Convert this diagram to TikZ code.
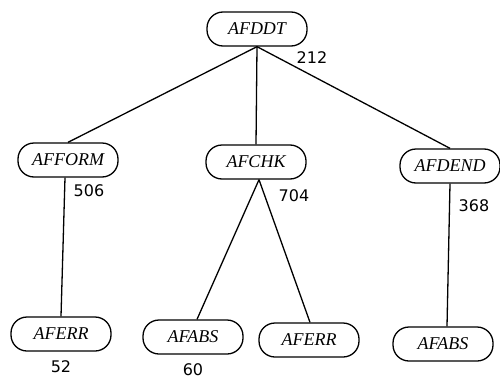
\documentclass[tikz,border=0pt]{standalone}
\usepackage{fontspec}
\setmainfont{Liberation Serif}
\newfontfamily\handfont{DejaVu Sans}
\begin{document}
\begin{tikzpicture}[x=1pt,y=-1pt,
  module/.style={draw, line width=1.3pt, rounded corners=16pt,
    minimum width=100pt, minimum height=34pt, inner sep=0pt,
    font=\fontsize{18}{20}\selectfont\itshape},
  count/.style={font=\handfont\fontsize{16}{18}\selectfont, inner sep=0pt},
  link/.style={line width=1.3pt}]
\useasboundingbox (0,0) rectangle (500,380);
% modules
\node[module] (ddt)   at (257,29)  {AFDDT};
\node[module] (form)  at (68,160)  {AFFORM};
\node[module] (chk)   at (256,162) {AFCHK};
\node[module] (dend)  at (450,166) {AFDEND};
\node[module] (err1)  at (61,334)  {AFERR};
\node[module] (abs1)  at (193,337) {AFABS};
\node[module] (err2)  at (309,340) {AFERR};
\node[module] (abs2)  at (443,344) {AFABS};
% calls
\draw[link] (ddt.south) -- (form.north);
\draw[link] (ddt.south) -- (chk.north);
\draw[link] (ddt.south) -- (dend.north);
\draw[link] ([xshift=-3pt]form.south) -- (err1.north);
\draw[link] ([xshift=3pt]chk.south) -- ([xshift=4pt]abs1.north);
\draw[link] ([xshift=3pt]chk.south) -- ([xshift=1pt]err2.north);
\draw[link] (dend.south) -- ([xshift=4pt]abs2.north);
% sizes
\node[count] (n212) at (312,58)  {212};
\node[count] (n506) at (89,191)  {506};
\node[count] (n704) at (294,196) {704};
\node[count] (n368) at (474,206) {368};
\node[count] (n52)  at (61,367)  {52};
\node[count] (n60)  at (193,370) {60};
\end{tikzpicture}
\end{document}
